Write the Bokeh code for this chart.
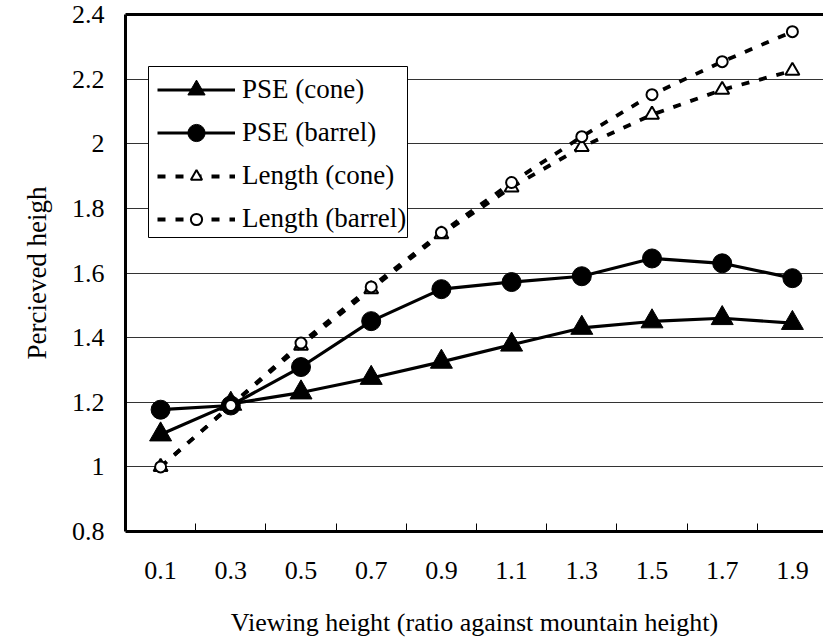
from bokeh.plotting import figure
from bokeh.models import (Range1d, FixedTicker, LinearAxis, CustomJSTickFormatter,
                          Legend, LegendItem, BoxAnnotation)
from bokeh.embed import file_html
from bokeh.resources import INLINE

categories = ["0.1", "0.3", "0.5", "0.7", "0.9", "1.1", "1.3", "1.5", "1.7", "1.9"]
pse_cone = [1.10, 1.195, 1.23, 1.275, 1.325, 1.378, 1.43, 1.45, 1.46, 1.445]
pse_barrel = [1.177, 1.19, 1.309, 1.451, 1.55, 1.572, 1.59, 1.645, 1.63, 1.584]
len_cone = [1.0, 1.19, 1.375, 1.55, 1.72, 1.865, 1.99, 2.09, 2.167, 2.226]
len_barrel = [1.0, 1.19, 1.383, 1.557, 1.725, 1.88, 2.022, 2.152, 2.254, 2.347]
y_ticks = [0.8, 1.0, 1.2, 1.4, 1.6, 1.8, 2.0, 2.2, 2.4]

FONT = "Liberation Serif"
xs = list(range(len(categories)))

p = figure(width=823, height=639, output_backend="svg", toolbar_location=None,
           x_range=Range1d(-0.5, 9.443), y_range=Range1d(0.8, 2.4),
           min_border_left=125, min_border_top=14, min_border_right=0, min_border_bottom=10)
p.outline_line_color = None
p.background_fill_color = "white"
p.border_fill_color = "white"

# x axis
p.xaxis.ticker = FixedTicker(ticks=xs, minor_ticks=[i + 0.5 for i in xs[:-1]])
p.xaxis.major_label_overrides = {i: c for i, c in enumerate(categories)}
p.xaxis.major_tick_line_color = None
p.xaxis.minor_tick_in = 8
p.xaxis.minor_tick_out = 0
p.xaxis.minor_tick_line_width = 1
p.xaxis.minor_tick_line_color = "black"
p.xaxis.axis_line_width = 3
p.xaxis.axis_line_color = "black"
p.xaxis.major_label_standoff = 24
p.xaxis.major_label_text_font = FONT
p.xaxis.major_label_text_font_size = "26px"
p.xaxis.major_label_text_color = "black"
p.xaxis.axis_label = "Viewing height (ratio against mountain height)"
p.xaxis.axis_label_text_font = FONT
p.xaxis.axis_label_text_font_size = "26px"
p.xaxis.axis_label_text_font_style = "normal"
p.xaxis.axis_label_standoff = 26
p.xaxis.axis_label_text_color = "black"

# y axis
p.yaxis.ticker = FixedTicker(ticks=y_ticks)
p.yaxis.formatter = CustomJSTickFormatter(code="return (Math.round(tick*10)/10).toString();")
p.yaxis.major_tick_in = 0
p.yaxis.major_tick_out = 0
p.yaxis.minor_tick_line_color = None
p.yaxis.axis_line_width = 3
p.yaxis.axis_line_color = "black"
p.yaxis.major_label_standoff = 21
p.yaxis.major_label_text_font = FONT
p.yaxis.major_label_text_font_size = "26px"
p.yaxis.major_label_text_color = "black"
p.yaxis.axis_label = "Percieved heigh"
p.yaxis.axis_label_text_font = FONT
p.yaxis.axis_label_text_font_size = "27px"
p.yaxis.axis_label_text_font_style = "normal"
p.yaxis.axis_label_standoff = 17
p.yaxis.axis_label_text_color = "black"

# top border as an axis
top = LinearAxis(ticker=FixedTicker(ticks=[]), axis_line_width=3, axis_line_color="black",
                 major_tick_line_color=None, minor_tick_line_color=None,
                 major_label_text_font_size="0px", major_label_standoff=0)
p.add_layout(top, "above")

p.xgrid.grid_line_color = None
p.ygrid.ticker = FixedTicker(ticks=y_ticks)
p.ygrid.grid_line_color = "#333333"
p.ygrid.grid_line_width = 1

# series
l1 = p.line(xs, pse_cone, line_color="black", line_width=3.2)
m1 = p.scatter(xs, pse_cone, marker="triangle", size=22, fill_color="black", line_color="black")
l2 = p.line(xs, pse_barrel, line_color="black", line_width=3.2)
m2 = p.scatter(xs, pse_barrel, marker="circle", size=19, fill_color="black", line_color="black")
l3 = p.line(xs, len_cone, line_color="black", line_width=3.8, line_dash="8 10")
m3 = p.scatter(xs, len_cone, marker="triangle", size=14, fill_color="white", line_color="black", line_width=2)
l4 = p.line(xs, len_barrel, line_color="black", line_width=3.8, line_dash="8 10")
m4 = p.scatter(xs, len_barrel, marker="circle", size=11, fill_color="white", line_color="black", line_width=2)

# legend frame (screen units relative to the plot frame)
legend_box = BoxAnnotation(left=23, right=282, bottom=294, top=465,
                           left_units="screen", right_units="screen",
                           bottom_units="screen", top_units="screen",
                           fill_color="white", fill_alpha=1.0,
                           line_color="black", line_width=1, line_alpha=1.0)
p.add_layout(legend_box)

def make_legend(items, gh, spacing, loc):
    lg = Legend(items=items, location=loc)
    lg.glyph_width = 78
    lg.glyph_height = gh
    lg.label_height = 28
    lg.spacing = spacing
    lg.padding = 0
    lg.margin = 0
    lg.label_standoff = 7
    lg.label_text_font = FONT
    lg.label_text_font_size = "27px"
    lg.label_text_color = "black"
    lg.border_line_color = None
    lg.background_fill_alpha = 0
    return lg

legend_a = make_legend([
    LegendItem(label="PSE (cone)", renderers=[l1, m1]),
    LegendItem(label="PSE (barrel)", renderers=[l2, m2]),
], 43, 0, (32, 377))
legend_b = make_legend([
    LegendItem(label="Length (cone)", renderers=[l3, m3]),
    LegendItem(label="Length (barrel)", renderers=[l4, m4]),
], 28, 12, (32, 297))
p.add_layout(legend_a, "center")
p.add_layout(legend_b, "center")

open("out.html", "w").write(file_html(p, INLINE))
